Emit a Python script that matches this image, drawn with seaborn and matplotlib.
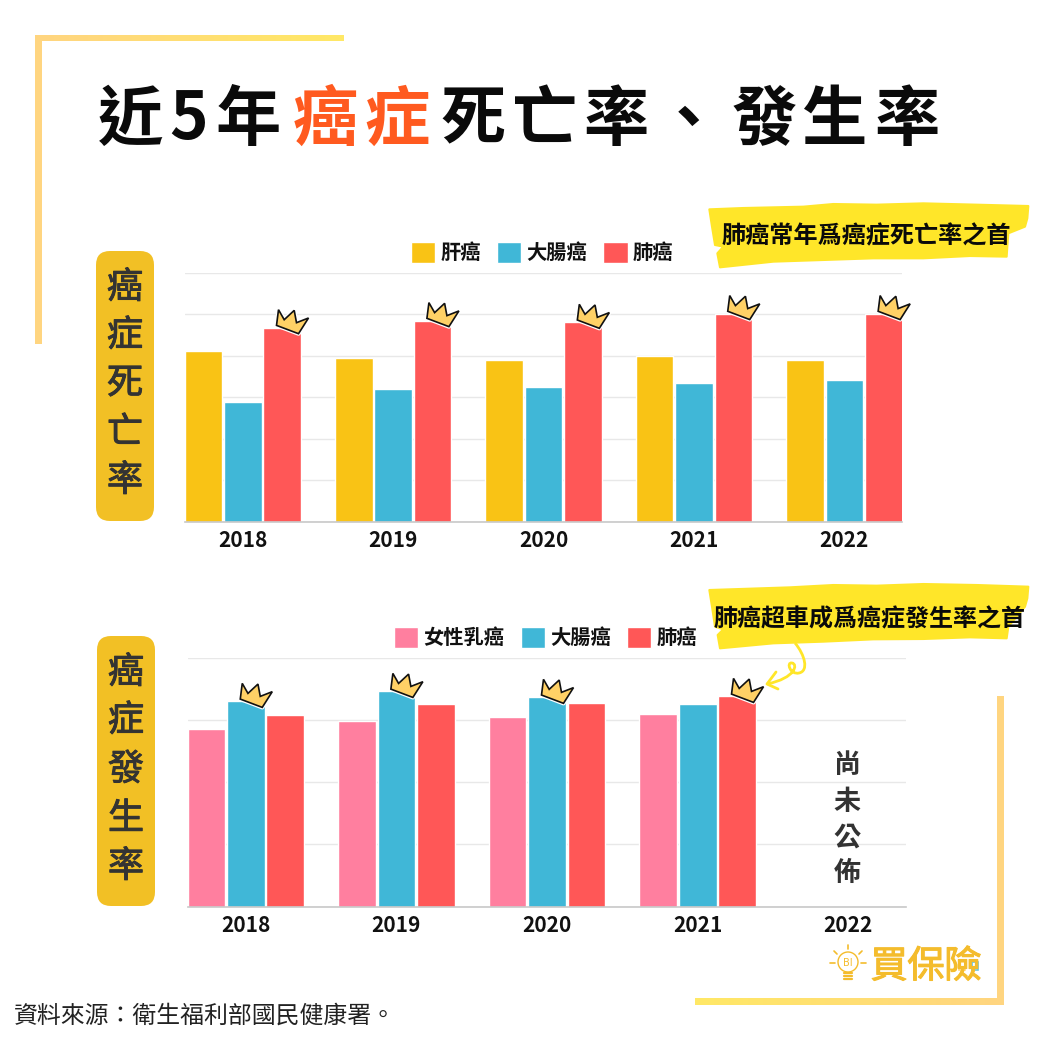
import numpy as np
import pandas as pd
import matplotlib
matplotlib.use("Agg")
import matplotlib.pyplot as plt
import matplotlib.patheffects as pe
import seaborn as sns
from matplotlib.patches import Polygon, Rectangle, FancyBboxPatch, PathPatch, Circle
from matplotlib.path import Path
from matplotlib.colors import LinearSegmentedColormap

years = ["2018", "2019", "2020", "2021", "2022"]

death_series = ["肝癌", "大腸癌", "肺癌"]
death_liver = [41.0, 39.3, 38.8, 39.8, 38.8]
death_colon = [28.9, 32.0, 32.3, 33.3, 34.2]
death_lung = [46.7, 48.4, 48.0, 50.1, 50.1]

inc_series = ["女性乳癌", "大腸癌", "肺癌"]
inc_breast = [56.9, 59.5, 60.8, 61.7, np.nan]
inc_colon = [65.9, 69.1, 67.2, 65.0, np.nan]
inc_lung = [61.4, 65.0, 65.3, 67.5, np.nan]

YELLOW, BLUE, RED, PINK = "#F9C315", "#40B7D7", "#FF5757", "#FF7F9F"
FONT = ["Noto Sans CJK TC", "DejaVu Sans"]

sns.set_theme(style="white")
plt.rcParams["font.family"] = FONT
plt.rcParams["axes.unicode_minus"] = False

W = 1040
fig = plt.figure(figsize=(10.4, 10.4), dpi=100, facecolor="white")


def axes_px(l, t, r, b):
    return fig.add_axes([l / W, 1 - b / W, (r - l) / W, (b - t) / W])


def long_df(series, arrays):
    return pd.DataFrame(
        [(y, s, v) for s, arr in zip(series, arrays) for y, v in zip(years, arr)],
        columns=["year", "kind", "value"],
    )


def chart(ax, series, arrays, colors, ymax, step, legend_xy):
    df = long_df(series, arrays)
    sns.barplot(
        data=df, x="year", y="value", hue="kind", order=years, hue_order=series,
        palette=colors, width=0.785, gap=0.045, saturation=1, errorbar=None, ax=ax,
    )
    ax.set_xlim(-0.384, 4.383)
    ax.set_ylim(0, ymax)
    ax.set_yticks(np.arange(0, ymax + 1, step))
    ax.tick_params(axis="y", length=0, labelleft=False)
    ax.tick_params(axis="x", length=0, pad=6, labelsize=15, labelcolor="#111111")
    for lab in ax.get_xticklabels():
        lab.set_fontweight("bold")
    ax.set_xlabel("")
    ax.set_ylabel("")
    ax.grid(axis="y", color="#E8E8E8", lw=1)
    ax.set_axisbelow(True)
    for s in ["top", "left", "right"]:
        ax.spines[s].set_visible(False)
    ax.spines["bottom"].set_color("#C8C8C8")
    ax.spines["bottom"].set_linewidth(1.2)
    ax.patch.set_alpha(0)
    h, l = ax.get_legend_handles_labels()
    ax.legend(
        h, l, ncol=3, loc="center", bbox_to_anchor=(legend_xy[0] / W, 1 - legend_xy[1] / W),
        bbox_transform=fig.transFigure, frameon=False, borderpad=0,
        handlelength=1.2, handleheight=1.2, handletextpad=0.25, columnspacing=0.8,
        labelcolor="#111111",
        prop={"family": FONT, "size": 14.6, "weight": "bold"},
    )
    return ax


ax1 = axes_px(185, 272.5, 902, 521.5)
chart(ax1, death_series, [death_liver, death_colon, death_lung], [YELLOW, BLUE, RED], 60, 10, (542, 252.5))
ax2 = axes_px(188, 657.5, 906, 906.5)
chart(ax2, inc_series, [inc_breast, inc_colon, inc_lung], [PINK, BLUE, RED], 80, 20, (545.5, 637.5))

# overlay in reference pixel coordinates for decoration
ov = fig.add_axes([0, 0, 1, 1], zorder=10)
ov.patch.set_alpha(0)
ov.axis("off")

grad = LinearSegmentedColormap.from_list("g", ["#FFD580", "#FFE866"])
ov.imshow(np.linspace(0, 1, 64)[None, :], extent=(35, 344, 41, 35), cmap=grad, aspect="auto")
ov.imshow(np.linspace(1, 0, 64)[None, :], extent=(695, 1004, 1005, 998), cmap=grad, aspect="auto")
ov.add_patch(Rectangle((35, 35), 7, 309, color="#FFD580", lw=0))
ov.add_patch(Rectangle((997, 696), 7, 309, color="#FFD580", lw=0))
ov.set_xlim(0, W)
ov.set_ylim(W, 0)

# title, placed character by character for its wide tracking
title_chars = [("近", 131, "k"), ("5", 189, "k"), ("年", 248, "k"),
               ("癌", 325, "o"), ("症", 397, "o"),
               ("死", 473, "k"), ("亡", 545, "k"), ("率", 616, "k"), ("、", 688, "k"),
               ("發", 764, "k"), ("生", 835, "k"), ("率", 907, "k")]
for ch, x, c in title_chars:
    ov.text(x, 120, ch, ha="center", va="center", fontsize=47, fontweight="black",
            color="#FF5A1F" if c == "o" else "#0A0A0A")

# side labels
thick = [pe.withStroke(linewidth=0.7, foreground="#333333")]
for (l, t, chars, ys) in [(96, 251, "癌症死亡率", [288, 336, 384, 433, 481]),
                          (97, 636, "癌症發生率", [673, 721, 770, 819, 867])]:
    ov.add_patch(FancyBboxPatch((l + 14, t + 14), 58 - 28, 270 - 28,
                                boxstyle="round,pad=14,rounding_size=14",
                                fc="#F2C025", ec="none"))
    for ch, y in zip(chars, ys):
        ov.text(l + 29, y, ch, ha="center", va="center", fontsize=26, color="#333333",
                path_effects=thick)

# brush highlights
brush1 = [(58, 58), (160, 54), (250, 52), (340, 50), (430, 42), (560, 44), (700, 40), (860, 44),
          (1015, 48), (1012, 85), (1005, 110), (955, 130), (952, 170),
          (950, 200), (840, 198), (700, 205), (550, 205), (400, 210), (250, 215), (90, 232), (82, 190),
          (100, 170), (75, 165), (66, 110)]
brush2 = [(58, 60), (180, 56), (300, 52), (430, 45), (560, 47), (700, 42), (860, 45), (1015, 50),
          (1012, 85), (1005, 110), (955, 170),
          (950, 205), (840, 202), (700, 207), (550, 208), (400, 215), (250, 220), (90, 235), (83, 195),
          (100, 178), (75, 170), (66, 110)]
for pts, oy in [(brush1, 190), (brush2, 570)]:
    ov.add_patch(Polygon([(x / 3 + 690, y / 3 + oy) for x, y in pts], fc="#FFE629",
                         ec="#FFE629", lw=1.5, joinstyle="round"))
ov.text(866, 236, "肺癌常年爲癌症死亡率之首", ha="center", va="center", fontsize=17.4,
        fontweight="bold", color="#0A0A0A")
ov.text(870, 619, "肺癌超車成爲癌症發生率之首", ha="center", va="center", fontsize=17.3,
        fontweight="bold", color="#0A0A0A")

# arrow from second highlight to the crown
verts = [(795, 643), (805, 655), (809, 671), (799, 673),
         (790, 675), (786, 662), (792, 663),
         (798, 664), (796, 678), (767, 684)]
codes = [Path.MOVETO] + [Path.CURVE4] * 9
ov.add_patch(PathPatch(Path(verts, codes), fc="none", ec="#FFE629", lw=2))
ov.plot([776, 767, 778], [672, 684, 689], color="#FFE629", lw=2, solid_capstyle="round")

# crowns on the highest bar of each year, offset from that bar's corner
crown = np.array([(-22.4, -18), (-16.7, -8), (-6.7, -17.3), (-4.4, -5),
                  (7.6, -9.7), (-2.4, 6), (-24.4, -2.3)])


def crowns(ax, arrays):
    data = np.array(arrays, dtype=float)
    for yi in range(data.shape[1]):
        if np.all(np.isnan(data[:, yi])):
            continue
        si = int(np.nanargmax(data[:, yi]))
        bar = ax.containers[si][yi]
        px, py = ax.transData.transform((bar.get_x() + bar.get_width(), bar.get_height()))
        pts = crown + (px, W - py)
        ov.add_patch(Polygon(pts, fc="white", ec="white", lw=3, joinstyle="round"))
        ov.add_patch(Polygon(pts, fc="#FFD166", ec="#111111", lw=1.2, joinstyle="miter"))


crowns(ax1, [death_liver, death_colon, death_lung])
crowns(ax2, [inc_breast, inc_colon, inc_lung])

# not yet published
for ch, y in zip("尚未公佈", [765, 802, 838, 873]):
    ov.text(847, y, ch, ha="center", va="center", fontsize=19.5, color="#333333", fontweight="bold")

# logo
LOGO = "#F4BC2C"
logo_stroke = [pe.withStroke(linewidth=0.8, foreground=LOGO)]
for ch, x in zip("買保險", [889, 926, 963]):
    ov.text(x, 967, ch, ha="center", va="center", fontsize=27, color=LOGO, path_effects=logo_stroke)
ov.add_patch(Rectangle((959, 962), 6, 8, fc="white", ec="#FFD580", lw=1.2))
ov.add_patch(Rectangle((972, 962), 6, 8, fc="white", ec="#6CC5DC", lw=1.2))
ov.add_patch(Circle((848, 962), 10, fc="none", ec=LOGO, lw=1))
for (a, b, c, d) in [(848, 945, 848, 949), (834, 951, 837, 954), (862, 951, 859, 954),
                     (830, 963, 835, 963), (861, 963, 866, 963)]:
    ov.plot([a, c], [b, d], color=LOGO, lw=1.2)
for y in [973, 976, 979]:
    ov.plot([844, 852], [y, y], color=LOGO, lw=1.6)
ov.text(848, 963, "BI", ha="center", va="center", fontsize=7, color=LOGO, family=["DejaVu Sans"])

# source
ov.text(14, 1016, "資料來源：衛生福利部國民健康署。", ha="left", va="center", fontsize=17.2, color="#222222")

ov.set_xlim(0, W)
ov.set_ylim(W, 0)
fig.savefig("out.png", dpi=100)
